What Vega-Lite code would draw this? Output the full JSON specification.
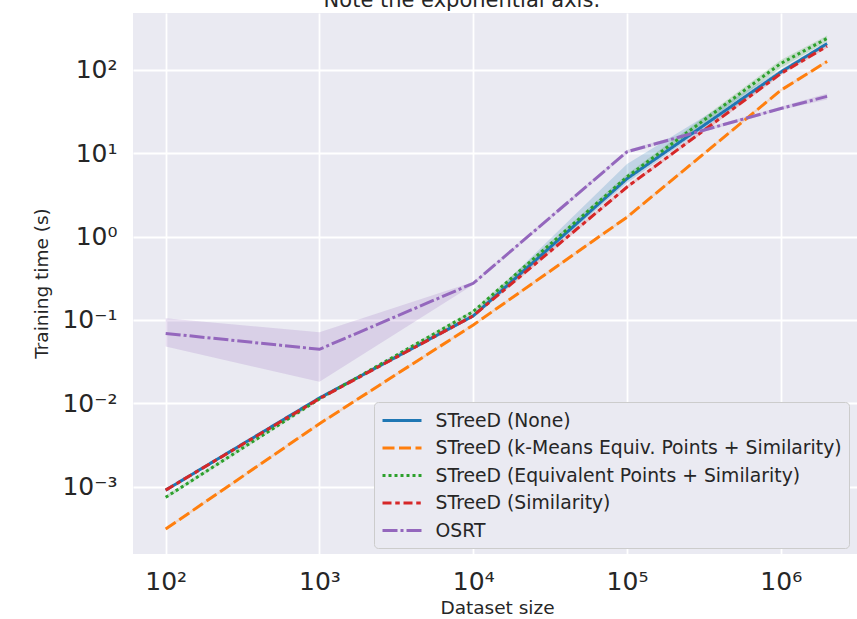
{
  "$schema": "https://vega.github.io/schema/vega-lite/v6.json",
  "autosize": {"type": "none"},
  "width": 724,
  "height": 541,
  "padding": {"left": 133, "top": 13, "right": 0, "bottom": 65},
  "background": "white",
  "title": {
    "text": "Note the exponential axis:",
    "font": "DejaVu Sans",
    "fontSize": 21,
    "fontWeight": "normal",
    "color": "#262626",
    "anchor": "middle",
    "baseline": "alphabetic",
    "offset": 5,
    "dx": -33,
    "dy": 20
  },
  "data": {
    "values": [
      {"method": "STreeD (None)", "n": 100, "t": 0.00091, "lo": 0.00087, "hi": 0.00095},
      {"method": "STreeD (None)", "n": 1000, "t": 0.0116, "lo": 0.0112, "hi": 0.012},
      {"method": "STreeD (None)", "n": 10000, "t": 0.112, "lo": 0.106, "hi": 0.119},
      {"method": "STreeD (None)", "n": 100000, "t": 4.95, "lo": 4.4, "hi": 7.4},
      {"method": "STreeD (None)", "n": 1000000, "t": 94, "lo": 88, "hi": 100},
      {"method": "STreeD (None)", "n": 2000000, "t": 206, "lo": 196, "hi": 216},
      {"method": "STreeD (k-Means Equiv. Points + Similarity)", "n": 100, "t": 0.000311, "lo": 0.0003, "hi": 0.000322},
      {"method": "STreeD (k-Means Equiv. Points + Similarity)", "n": 1000, "t": 0.0057, "lo": 0.0055, "hi": 0.0059},
      {"method": "STreeD (k-Means Equiv. Points + Similarity)", "n": 10000, "t": 0.087, "lo": 0.084, "hi": 0.09},
      {"method": "STreeD (k-Means Equiv. Points + Similarity)", "n": 100000, "t": 1.71, "lo": 1.65, "hi": 1.78},
      {"method": "STreeD (k-Means Equiv. Points + Similarity)", "n": 1000000, "t": 56.8, "lo": 55, "hi": 59},
      {"method": "STreeD (k-Means Equiv. Points + Similarity)", "n": 2000000, "t": 126, "lo": 122, "hi": 130},
      {"method": "STreeD (Equivalent Points + Similarity)", "n": 100, "t": 0.000746, "lo": 0.00071, "hi": 0.00078},
      {"method": "STreeD (Equivalent Points + Similarity)", "n": 1000, "t": 0.0113, "lo": 0.0109, "hi": 0.0117},
      {"method": "STreeD (Equivalent Points + Similarity)", "n": 10000, "t": 0.126, "lo": 0.12, "hi": 0.132},
      {"method": "STreeD (Equivalent Points + Similarity)", "n": 100000, "t": 5.2, "lo": 4.9, "hi": 5.6},
      {"method": "STreeD (Equivalent Points + Similarity)", "n": 1000000, "t": 119, "lo": 105, "hi": 131},
      {"method": "STreeD (Equivalent Points + Similarity)", "n": 2000000, "t": 238, "lo": 218, "hi": 258},
      {"method": "STreeD (Similarity)", "n": 100, "t": 0.00091, "lo": 0.00088, "hi": 0.00094},
      {"method": "STreeD (Similarity)", "n": 1000, "t": 0.0114, "lo": 0.011, "hi": 0.0118},
      {"method": "STreeD (Similarity)", "n": 10000, "t": 0.112, "lo": 0.107, "hi": 0.117},
      {"method": "STreeD (Similarity)", "n": 100000, "t": 3.93, "lo": 3.75, "hi": 4.1},
      {"method": "STreeD (Similarity)", "n": 1000000, "t": 90, "lo": 86, "hi": 94},
      {"method": "STreeD (Similarity)", "n": 2000000, "t": 192, "lo": 184, "hi": 200},
      {"method": "OSRT", "n": 100, "t": 0.069, "lo": 0.0479, "hi": 0.105},
      {"method": "OSRT", "n": 1000, "t": 0.0445, "lo": 0.0182, "hi": 0.0711},
      {"method": "OSRT", "n": 10000, "t": 0.275, "lo": 0.265, "hi": 0.285},
      {"method": "OSRT", "n": 100000, "t": 10.4, "lo": 9.9, "hi": 10.9},
      {"method": "OSRT", "n": 1000000, "t": 34.3, "lo": 33, "hi": 36},
      {"method": "OSRT", "n": 2000000, "t": 48, "lo": 44, "hi": 52}
    ]
  },
  "encoding": {
    "x": {
      "field": "n",
      "type": "quantitative",
      "title": "Dataset size",
      "scale": {"type": "log", "domain": [61.3, 3130000], "nice": false, "zero": false},
      "axis": {
        "values": [100, 1000, 10000, 100000, 1000000],
        "labelExpr": "'10' + ['⁻³','⁻²','⁻¹','⁰','¹','²','³','⁴','⁵','⁶'][round(log(datum.value)/LN10)+3]",
        "labelPadding": 15,
        "titleX": 364,
        "titleY": 59,
        "titleBaseline": "alphabetic"
      }
    },
    "y": {
      "type": "quantitative",
      "scale": {"type": "log", "domain": [0.000156, 480], "nice": false, "zero": false},
      "axis": {
        "title": "Training time (s)",
        "values": [0.001, 0.01, 0.1, 1, 10, 100],
        "labelExpr": "'10' + ['⁻³','⁻²','⁻¹','⁰','¹','²','³','⁴','⁵','⁶'][round(log(datum.value)/LN10)+3]",
        "labelPadding": 16,
        "titleAngle": -90,
        "titleX": -92,
        "titleY": 270,
        "titleAlign": "center",
        "titleBaseline": "middle"
      }
    },
    "color": {
      "field": "method",
      "type": "nominal",
      "title": null,
      "scale": {
        "domain": ["STreeD (None)", "STreeD (k-Means Equiv. Points + Similarity)", "STreeD (Equivalent Points + Similarity)", "STreeD (Similarity)", "OSRT"],
        "range": ["#1f77b4", "#ff7f0e", "#2ca02c", "#d62728", "#9467bd"]
      }
    }
  },
  "layer": [
    {
      "mark": {"type": "area", "fillOpacity": 0.2},
      "encoding": {
        "y": {"field": "lo", "type": "quantitative"},
        "y2": {"field": "hi"}
      }
    },
    {
      "mark": {"type": "line", "strokeWidth": 3},
      "encoding": {
        "y": {"field": "t", "type": "quantitative"},
        "strokeDash": {
          "field": "method",
          "type": "nominal",
          "title": null,
          "scale": {
            "domain": ["STreeD (None)", "STreeD (k-Means Equiv. Points + Similarity)", "STreeD (Equivalent Points + Similarity)", "STreeD (Similarity)", "OSRT"],
            "range": [[1, 0], [12, 4.5], [3, 3], [9, 3.75, 4.5, 3.75], [15, 3, 3, 3]]
          }
        }
      }
    }
  ],
  "config": {
    "font": "DejaVu Sans",
    "view": {"fill": "#eaeaf2", "stroke": null},
    "axis": {
      "grid": true,
      "gridColor": "#ffffff",
      "gridWidth": 1.8,
      "domain": false,
      "ticks": false,
      "tickSize": 0,
      "labelFont": "DejaVu Sans",
      "labelFontSize": 25,
      "labelColor": "#262626",
      "titleFont": "DejaVu Sans",
      "titleFontSize": 18.5,
      "titleFontWeight": "normal",
      "titleColor": "#262626"
    },
    "legend": {
      "orient": "none",
      "legendX": 241,
      "legendY": 389,
      "labelFont": "DejaVu Sans",
      "labelFontSize": 18.8,
      "labelColor": "#262626",
      "labelLimit": 1000,
      "symbolType": "M-2,0H2",
      "symbolSize": 380,
      "symbolStrokeWidth": 3,
      "symbolOpacity": 1,
      "symbolOffset": 9.5,
      "rowPadding": 5.5,
      "padding": 7,
      "labelOffset": 22,
      "fillColor": "#eaeaf2",
      "strokeColor": "#cccccc",
      "cornerRadius": 4
    }
  }
}
